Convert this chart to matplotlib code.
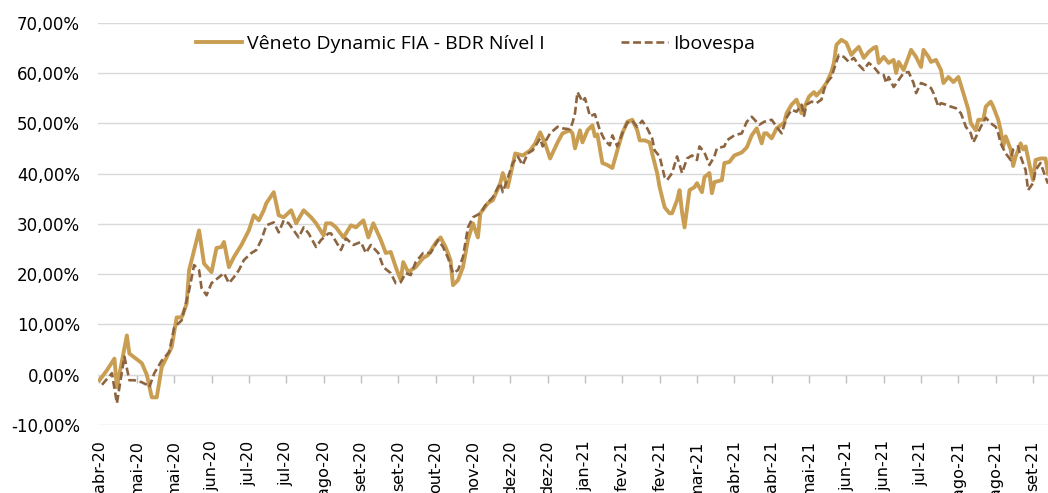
import matplotlib
matplotlib.use("Agg")
import matplotlib.pyplot as plt
from matplotlib.ticker import FuncFormatter

# dias úteis desde o início (índice) e retorno acumulado em %
dias_veneto = [0, 3, 6, 7, 11, 12, 17, 19, 21, 23, 25, 29, 31, 33, 35, 36, 40, 42, 45, 47,
               49, 50, 52, 54, 57, 60, 62, 64, 66, 67, 70, 72, 74, 77, 79, 82, 85, 87, 90, 91,
               93, 95, 98, 101, 103, 106, 108, 110, 113, 115, 117, 119, 121, 122, 124, 127, 130, 132, 135, 137,
               139, 141, 142, 144, 146, 148, 150, 152, 153, 156, 158, 161, 162, 164, 167, 170, 173, 175, 177, 179,
               181, 184, 186, 189, 190, 191, 193, 194, 196, 198, 199, 200, 202, 204, 206, 208, 210, 212, 214, 216,
               217, 219, 221, 222, 224, 225, 227, 229, 230, 232, 233, 234, 235, 237, 239, 240, 242, 243, 245, 246,
               247, 250, 251, 253, 255, 258, 260, 262, 264, 266, 267, 268, 270, 272, 275, 276, 278, 280, 282, 283,
               285, 287, 288, 290, 292, 294, 295, 296, 298, 300, 302, 303, 305, 307, 309, 311, 312, 313, 315, 317,
               319, 320, 321, 323, 325, 326, 328, 330, 331, 333, 334, 336, 338, 339, 341, 343, 345, 347, 349, 350,
               352, 353, 355, 356, 358, 359, 361, 362, 363, 364, 366, 367, 368, 370, 371, 372, 374, 375, 376, 378,
               380, 381]
veneto = [-1.1, 0.9, 3.2, -2.5, 7.8, 4.2, 2.3, 0.0, -4.5, -4.5, 1.5, 5.5, 11.4, 11.4, 14.1, 20.8, 28.7, 22.1, 20.4, 25.2,
          25.4, 26.4, 21.4, 23.4, 25.8, 28.7, 31.7, 30.7, 32.7, 34.1, 36.3, 31.7, 31.3, 32.7, 30.1, 32.7, 31.3, 30.1, 27.7, 30.1,
          30.1, 29.3, 27.3, 29.7, 29.3, 30.7, 27.3, 30.1, 26.8, 24.2, 24.4, 21.4, 18.8, 22.4, 20.4, 21.4, 23.2, 23.8, 26.2, 27.3,
          25.4, 22.8, 17.8, 18.8, 21.4, 26.8, 30.1, 27.3, 32.1, 34.1, 34.7, 38.1, 40.1, 37.3, 44.0, 43.6, 44.6, 46.0, 48.2, 46.0,
          43.0, 46.2, 48.0, 48.6, 48.0, 45.0, 48.6, 46.2, 48.6, 49.6, 47.4, 47.8, 42.1, 41.7, 41.1, 44.6, 48.0, 50.3, 50.7, 48.6,
          46.6, 46.6, 46.2, 44.0, 40.1, 37.3, 33.3, 32.1, 32.1, 34.7, 36.7, 32.3, 29.3, 36.7, 37.3, 38.1, 36.3, 39.3, 40.1, 36.1,
          38.3, 38.7, 42.1, 42.3, 43.6, 44.2, 45.2, 47.6, 49.0, 46.0, 48.0, 48.0, 47.0, 49.0, 50.1, 52.0, 53.7, 54.7, 52.0, 53.0,
          55.3, 56.2, 55.5, 56.6, 58.0, 60.2, 62.0, 65.6, 66.6, 66.0, 63.6, 64.2, 65.2, 63.0, 64.2, 65.0, 65.2, 62.0, 63.2, 62.0,
          62.6, 60.0, 62.2, 60.6, 63.2, 64.6, 63.2, 61.2, 64.6, 63.2, 62.2, 62.6, 60.6, 58.0, 59.2, 58.2, 59.2, 56.0, 52.7, 50.0,
          48.6, 50.7, 50.7, 53.3, 54.3, 53.3, 50.7, 48.6, 45.4, 47.4, 44.8, 41.5, 43.4, 46.0, 44.8, 45.4, 40.7, 38.7, 42.7, 43.0,
          43.0, 40.0]

dias_ibov = [1, 5, 7, 8, 10, 12, 14, 17, 19, 20, 22, 25, 28, 30, 33, 36, 38, 40, 41, 43,
             45, 48, 50, 52, 54, 56, 58, 61, 63, 65, 67, 70, 72, 74, 76, 78, 80, 82, 84, 87,
             89, 92, 93, 97, 99, 102, 105, 107, 109, 112, 114, 117, 119, 121, 123, 125, 127, 130, 133, 136,
             138, 140, 142, 144, 146, 148, 150, 153, 155, 158, 161, 162, 164, 166, 168, 170, 172, 174, 177, 178,
             181, 184, 186, 189, 190, 191, 192, 194, 195, 196, 197, 199, 201, 203, 205, 206, 208, 210, 212, 214,
             216, 218, 220, 222, 223, 225, 227, 228, 230, 232, 234, 236, 238, 240, 241, 243, 245, 247, 248, 251,
             252, 255, 258, 260, 262, 265, 267, 270, 272, 274, 276, 278, 280, 282, 283, 284, 286, 288, 290, 291,
             292, 294, 296, 297, 299, 301, 303, 305, 307, 309, 311, 313, 315, 316, 317, 319, 321, 323, 325, 327,
             328, 330, 332, 334, 335, 337, 338, 340, 342, 344, 346, 347, 348, 350, 351, 352, 354, 356, 358, 360,
             361, 362, 364, 366, 367, 369, 370, 372, 373, 375, 376, 378, 380, 381]
ibov = [-2.0, 0.3, -5.7, -2.5, 3.6, -1.1, -1.1, -1.5, -2.0, -2.5, 0.3, 2.8, 4.5, 9.4, 10.8, 16.8, 21.8, 20.8, 17.2, 15.8,
        18.2, 19.4, 20.2, 18.2, 19.4, 20.8, 22.8, 24.2, 24.8, 26.8, 29.7, 30.3, 28.3, 30.7, 30.1, 28.7, 27.3, 29.3, 28.1, 25.4,
        26.8, 28.1, 28.1, 24.8, 27.1, 25.8, 26.4, 24.2, 25.8, 24.2, 21.4, 20.2, 18.2, 18.4, 20.2, 19.8, 22.4, 24.2, 24.2, 26.8,
        25.4, 23.2, 20.2, 20.8, 23.4, 29.3, 31.3, 32.1, 33.7, 35.3, 38.1, 36.3, 39.1, 42.1, 43.4, 41.7, 44.0, 44.6, 47.0, 45.4,
        48.0, 49.3, 49.0, 48.8, 50.1, 52.0, 56.2, 54.3, 55.0, 53.3, 51.4, 51.8, 48.6, 46.6, 45.6, 47.6, 45.4, 48.0, 50.1, 50.5,
        49.3, 50.5, 49.0, 47.0, 44.6, 43.4, 39.3, 38.7, 40.1, 43.4, 40.1, 43.0, 43.6, 42.7, 45.4, 44.2, 41.7, 43.4, 45.0, 45.4,
        46.6, 47.6, 48.0, 50.3, 51.3, 49.7, 50.3, 50.7, 49.3, 48.0, 51.1, 52.7, 52.3, 53.7, 51.5, 53.7, 54.3, 54.0, 54.7, 56.6,
        58.0, 59.2, 62.2, 63.6, 63.2, 62.2, 63.0, 61.6, 60.6, 62.0, 61.2, 60.0, 59.6, 58.0, 59.2, 57.2, 58.6, 60.0, 60.2, 58.0,
        56.0, 58.0, 57.6, 57.0, 56.0, 53.3, 54.0, 53.7, 53.3, 53.0, 52.0, 50.7, 49.3, 48.0, 46.2, 47.2, 49.3, 51.1, 50.0, 49.3,
        48.0, 46.0, 44.0, 42.7, 44.8, 45.4, 43.4, 40.7, 36.7, 38.1, 40.7, 42.1, 39.3, 38.0]

rotulos = ["abr-20", "mai-20", "mai-20", "jun-20", "jul-20", "jul-20", "ago-20", "set-20", "set-20",
           "out-20", "nov-20", "dez-20", "dez-20", "jan-21", "fev-21", "fev-21", "mar-21", "abr-21",
           "abr-21", "mai-21", "jun-21", "jun-21", "jul-21", "ago-21", "ago-21", "set-21"]
passo = 15

W, H = 1048, 493
fig = plt.figure(figsize=(W / 100, H / 100), dpi=100)
ax = fig.add_axes([98 / W, 1 - 425 / H, (W - 98) / W, (425 - 22.7) / H])

ax.plot(dias_veneto, veneto, color="#C99E52", lw=2.8, solid_joinstyle="round",
        label="Vêneto Dynamic FIA - BDR Nível I", zorder=3)
ax.plot(dias_ibov, ibov, color="#8C6440", lw=1.9, dashes=(3, 1.4),
        label="Ibovespa", zorder=4)

ax.set_ylim(-10, 70)
ax.set_yticks(range(-10, 71, 10))
ax.yaxis.set_major_formatter(FuncFormatter(lambda v, p: f"{v:.2f}%".replace(".", ",")))
ax.set_xlim(-0.6, 381)
ticks = [i * passo for i in range(len(rotulos))]
ax.set_xticks(ticks)
ax.set_xticklabels(rotulos, rotation=90)
ax.tick_params(axis="x", length=0, pad=11, labelsize=11.5, labelcolor="#000000")
ax.tick_params(axis="y", length=0, pad=13, labelsize=12, labelcolor="#000000")
ax.grid(axis="y", color="#D9D9D9", lw=1)
ax.set_axisbelow(True)
for s in ax.spines.values():
    s.set_visible(False)

# linha do eixo em 0% com marcas
eixo = ax.secondary_xaxis(10 / 80)
eixo.set_xticks(ticks)
eixo.set_xticklabels([])
eixo.tick_params(length=6, color="#BFBFBF", width=1)
eixo.spines["bottom"].set_color("#BFBFBF")

leg = fig.legend(loc="center left", bbox_to_anchor=(178 / W, 1 - 44 / H), ncol=2, frameon=False,
                 handlelength=2.4, handletextpad=0.27, columnspacing=3.9,
                 prop={"family": "Open Sans", "size": 14})

fig.savefig("out.png", dpi=100)
